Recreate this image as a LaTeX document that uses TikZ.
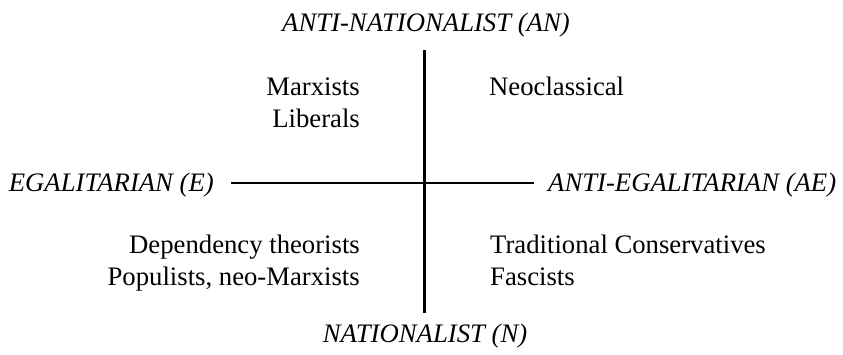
\documentclass[tikz,border=0pt]{standalone}
\usepackage{fontspec}
\setmainfont{Liberation Serif}
\begin{document}
\begin{tikzpicture}[x=1pt,y=-1pt,
  lbl/.style={inner sep=0pt,font=\fontsize{26.7}{32}\selectfont},
  axislbl/.style={lbl,font=\fontsize{26.7}{32}\selectfont\itshape},
  axis/.style={line width=2.3pt,black}]
\useasboundingbox (0,0) rectangle (843,355);
% axis labels
\node[axislbl,anchor=base] (an) at (426,32) {ANTI-NATIONALIST (AN)};
\node[axislbl,anchor=base] (n) at (425,342) {NATIONALIST (N)};
\node[axislbl,anchor=base east] (e) at (214,192) {EGALITARIAN (E)};
\node[axislbl,anchor=base west] (ae) at (548,192) {ANTI-EGALITARIAN (AE)};
% axes
\coordinate (vtop) at (424.5,50);
\coordinate (vbot) at (424.5,313);
\coordinate (hl) at (231,183);
\coordinate (hr) at (534,183);
\draw[axis] (vtop) -- (vbot);
\draw[axis] (hl) -- (hr);
% quadrant texts
\node[lbl,anchor=base east] (marx) at (360,96) {Marxists};
\node[lbl,anchor=base east] (lib) at (360,128) {Liberals};
\node[lbl,anchor=base west] (neo) at (489,96) {Neoclassical};
\node[lbl,anchor=base east] (dep) at (360,254) {Dependency theorists};
\node[lbl,anchor=base east] (pop) at (360,286) {Populists, neo-Marxists};
\node[lbl,anchor=base west] (trad) at (490,254) {Traditional Conservatives};
\node[lbl,anchor=base west] (fasc) at (490,286) {Fascists};
\end{tikzpicture}
\end{document}
